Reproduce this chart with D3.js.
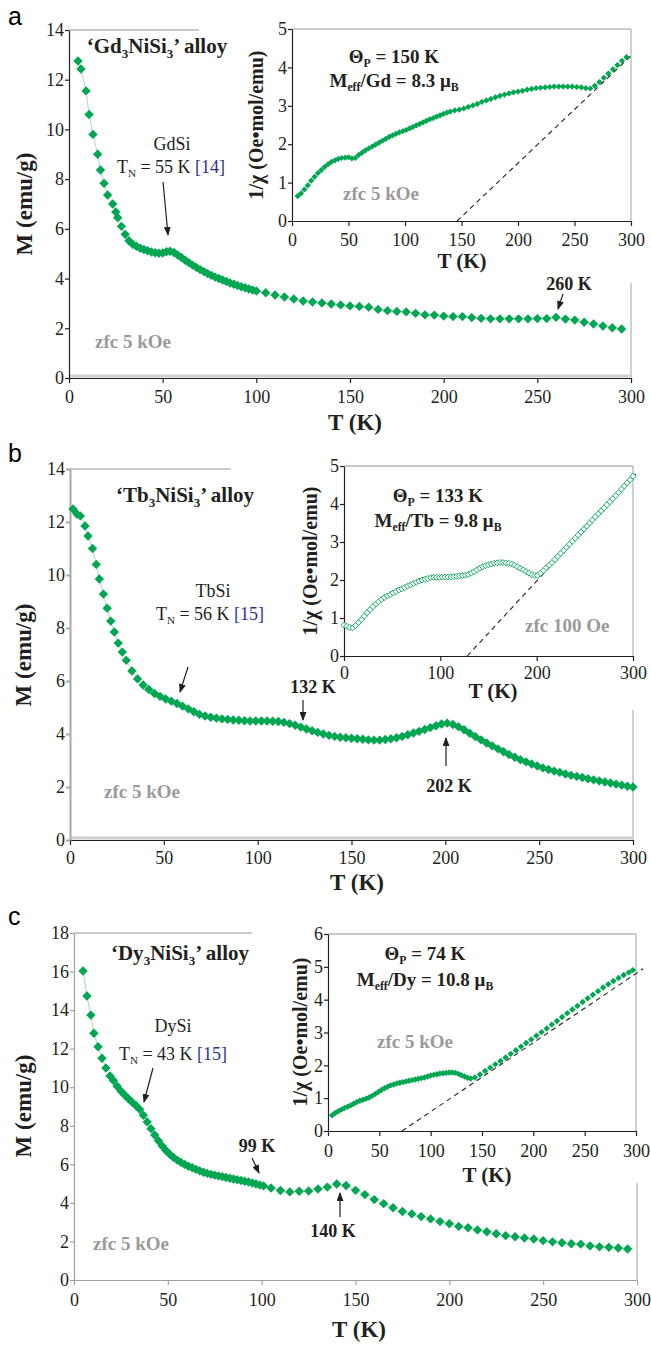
<!DOCTYPE html>
<html>
<head>
<meta charset="utf-8">
<script src="https://cdn.jsdelivr.net/npm/d3@7"></script>
<style>
  body { margin: 0; background: #fff; }
  svg text { font-family: "Liberation Serif", "Times New Roman", serif; }
</style>
</head>
<body>
<div id="grafica"></div>
<script>
// ---- Datos: pares [T (K), valor] ----
// (a) Gd3NiSi3: M (emu/g) y 1/chi
const gdMain = [[4.8,12.75],[6.4,12.43],[9.1,11.55],[10.7,10.6],[12.8,9.8],[15.3,9.0],[16.8,8.37],[18.7,7.83],[20.6,7.36],[23.3,7.0],[25,6.68],
  [26,6.45],[28,6.1],[30,5.78],[32,5.52],[34,5.38],[36,5.3],[38,5.22],[40,5.17],[42,5.12],[44,5.07],[46,5.04],[48,5.02],[50,5.03],[52,5.08],[54,5.1],[56,5.05],[58,4.95],[60,4.85],[62,4.74],[64,4.64],[66,4.54],[68,4.45],[70,4.36],[72,4.28],[74,4.2],[76,4.13],[78,4.06],[80,4.0],[82,3.94],[84,3.88],[86,3.82],[88,3.77],[90,3.72],[92,3.67],[94,3.63],[96,3.58],[98,3.54],[100,3.5],
  [105,3.43],[110,3.34],[115,3.26],[120,3.18],[125,3.1],[130,3.06],[135,3.02],[140,2.98],[145,2.94],[150,2.9],[155,2.88],[160,2.85],[165,2.76],[170,2.71],[175,2.68],[180,2.66],[185,2.6],[190,2.54],[195,2.53],[200,2.49],[205,2.47],[210,2.47],[215,2.43],[220,2.4],[225,2.38],[230,2.38],[235,2.38],[240,2.38],[245,2.38],[250,2.39],[255,2.39],[260,2.44],[265,2.37],[270,2.33],[275,2.24],[280,2.17],[285,2.09],[290,2.02],[295,1.97]];
const gdInv = [[5,0.65],[8,0.72],[11,0.82],[14,0.93],[17,1.05],[20,1.15],[23,1.25],[26,1.33],[29,1.41],[32,1.48],[35,1.54],[38,1.58],[41,1.62],[44,1.64],[47,1.65],[50,1.66],[53,1.63],[56,1.64],
  [59,1.72],[62,1.78],[65,1.84],[68,1.89],[71,1.94],[74,1.99],[77,2.04],[80,2.09],[83,2.14],[86,2.19],[89,2.23],[92,2.27],[95,2.31],[98,2.34],[101,2.37],[104,2.41],[107,2.45],[110,2.49],[113,2.53],[116,2.57],[119,2.61],[122,2.65],[125,2.68],[128,2.72],[131,2.75],[134,2.79],[137,2.82],[140,2.85],
  [144,2.88],[148,2.9],[152,2.93],[156,2.97],[160,3.01],[164,3.05],[168,3.1],[172,3.14],[176,3.18],[180,3.22],[184,3.26],[188,3.29],[192,3.32],[196,3.35],[200,3.37],[204,3.39],[208,3.42],[212,3.44],[216,3.46],[220,3.47],[224,3.48],[228,3.49],[232,3.5],[236,3.5],[240,3.5],[244,3.5],[248,3.5],[252,3.49],[256,3.48],[260,3.46],[264,3.45],[268,3.52],[272,3.62],[276,3.73],[280,3.84],[284,3.95],[288,4.06],[292,4.17],[296,4.27]];
const gdFit = [[146,0],[300,4.3]];

// (b) Tb3NiSi3
const tbMain = [[1.6,12.49],[3.7,12.3],[5.5,12.23],[8,11.85],[9.6,11.47],[12,11.0],[14,10.4],[15.6,9.85],[17.8,9.28],[19.8,8.75],[21.7,8.26],[23.6,7.85],[25.7,7.43],[27.9,7.09],
  [30,6.78],[33,6.38],[36,6.08],[39,5.85],[42,5.68],[45,5.53],[48,5.42],[51,5.32],[54,5.24],[57,5.15],[60,5.05],[63,4.95],[66,4.84],[69,4.74],[72,4.68],[75,4.63],[78,4.6],[81,4.57],[84,4.55],[87,4.53],[90,4.52],[93,4.5],[96,4.49],[99,4.49],[102,4.49],[105,4.49],[108,4.48],[111,4.47],[114,4.44],[117,4.39],[120,4.33],[123,4.26],[126,4.19],[129,4.12],[132,4.06],[135,4.0],[138,3.95],[141,3.91],[144,3.88],[147,3.86],[150,3.84],[153,3.82],[156,3.8],[159,3.78],[162,3.77],[165,3.77],[168,3.79],[171,3.82],[174,3.86],[177,3.91],[180,3.97],[183,4.04],[186,4.1],[189,4.17],[192,4.24],[195,4.31],[198,4.38],[201,4.41],[204,4.36],[207,4.27],[210,4.16],[213,4.03],[216,3.9],[219,3.78],[222,3.66],[225,3.55],[228,3.44],[231,3.33],[234,3.22],[237,3.12],[240,3.03],[243,2.95],[246,2.87],[249,2.79],[252,2.72],[255,2.66],[258,2.6],[261,2.55],[264,2.49],[267,2.44],[270,2.4],[273,2.36],[276,2.31],[279,2.27],[282,2.23],[285,2.19],[288,2.15],[291,2.11],[294,2.07],[297,2.03],[300,2.0]];
const tbInv = [[0,0.81],[3,0.78],[6,0.75],[9,0.74],[12,0.8],[15,0.88],[18,0.96],[21,1.05],[24,1.14],[27,1.22],[30,1.3],[33,1.37],[36,1.43],[39,1.49],[42,1.54],[45,1.58],[48,1.62],[51,1.66],[54,1.7],[57,1.74],[60,1.77],[63,1.8],[66,1.84],[69,1.87],[72,1.91],[75,1.94],[78,1.97],[81,2.0],[84,2.02],[87,2.04],[90,2.06],[93,2.07],[96,2.07],[99,2.07],[102,2.08],[105,2.08],[108,2.08],[111,2.08],[114,2.09],[117,2.1],[120,2.11],[123,2.12],[126,2.13],[129,2.15],[132,2.18],[135,2.22],[138,2.27],[141,2.31],[144,2.35],[147,2.38],[150,2.4],[153,2.42],[156,2.44],[159,2.45],[162,2.46],[165,2.46],[168,2.45],[171,2.44],[174,2.42],[177,2.39],[180,2.35],[183,2.31],[186,2.27],[189,2.22],[192,2.18],[195,2.14],[198,2.12],
  [201,2.12],[204,2.18],[207,2.25],[210,2.32],[213,2.39],[216,2.46],[219,2.54],[222,2.62],[225,2.7],[228,2.78],[231,2.86],[234,2.94],[237,3.02],[240,3.1],[243,3.18],[246,3.26],[249,3.34],[252,3.42],[255,3.5],[258,3.58],[261,3.66],[264,3.74],[267,3.82],[270,3.9],[273,3.98],[276,4.06],[279,4.14],[282,4.22],[285,4.3],[288,4.39],[291,4.47],[294,4.56],[297,4.64],[300,4.73]];
const tbFit = [[128,0],[305,4.85]];

// (c) Dy3NiSi3
const dyMain = [[4.8,16.03],[6.9,14.73],[9,13.74],[10.6,12.8],[12.8,12.1],[14.9,11.5],[17,11.0],[19.2,10.58],
  [21,10.35],[23,10.05],[25,9.8],[27,9.6],[29,9.4],[31,9.22],[33,9.05],[35,8.85],[37,8.55],[39,8.2],[41,7.85],[43,7.52],[45,7.22],[47,6.95],[49,6.72],[51,6.52],[53,6.36],[55,6.22],[57,6.1],[59,5.99],[61,5.9],[63,5.82],[65,5.74],[67,5.66],[69,5.59],[71,5.53],[73,5.48],[75,5.44],[77,5.4],[79,5.36],[81,5.32],[83,5.28],[85,5.24],[87,5.2],[89,5.16],[91,5.12],[93,5.08],[95,5.03],[97,4.98],[99,4.93],[101,4.88],
  [105,4.77],[110,4.64],[115,4.57],[120,4.6],[125,4.62],[130,4.72],[135,4.82],[140,4.98],[145,4.9],[150,4.65],[155,4.43],[160,4.17],[165,3.96],[170,3.75],[175,3.55],[180,3.43],[185,3.29],[190,3.17],[195,3.03],[200,2.92],[205,2.78],[210,2.71],[215,2.6],[220,2.5],[225,2.4],[230,2.3],[235,2.24],[240,2.18],[245,2.13],[250,2.04],[255,1.98],[260,1.93],[265,1.88],[270,1.86],[275,1.77],[280,1.72],[285,1.7],[290,1.66],[295,1.61]];
const dyInv = [[4,0.48],[7,0.55],[10,0.6],[13,0.65],[16,0.7],[19,0.74],[22,0.78],[25,0.83],[28,0.88],[31,0.92],[34,0.95],[37,0.98],[40,1.02],[43,1.07],[46,1.13],[49,1.19],[52,1.25],[55,1.3],[58,1.35],[61,1.39],[64,1.42],[67,1.45],[70,1.47],[73,1.49],[76,1.51],[79,1.53],[82,1.55],[85,1.57],[88,1.59],[91,1.61],[94,1.63],[97,1.66],[100,1.69],[103,1.71],[106,1.73],[109,1.75],[112,1.76],[115,1.77],[118,1.78],[121,1.78],[124,1.77],[127,1.74],[130,1.7],[133,1.66],[136,1.62],[139,1.6],
  [143,1.63],[148,1.72],[153,1.83],[158,1.93],[163,2.03],[168,2.13],[173,2.24],[178,2.35],[183,2.46],[188,2.57],[193,2.68],[198,2.79],[203,2.9],[208,3.01],[213,3.12],[218,3.24],[223,3.35],[228,3.47],[233,3.59],[238,3.7],[243,3.81],[248,3.93],[253,4.04],[258,4.15],[263,4.26],[268,4.37],[273,4.47],[278,4.57],[283,4.66],[288,4.75],[293,4.83],[297,4.9]];
const dyFit = [[72,0],[307,4.94]];

// Etiquetas de los ejes
const tTicks50 = [0, 50, 100, 150, 200, 250, 300];
const tTicks100 = [0, 100, 200, 300];
const mTicks14 = [0, 2, 4, 6, 8, 10, 12, 14];
const mTicks18 = [0, 2, 4, 6, 8, 10, 12, 14, 16, 18];
const invTicks5 = [0, 1, 2, 3, 4, 5];
const invTicks6 = [0, 1, 2, 3, 4, 5, 6];

// ---- Estilos ----
const verde = "#00a651";
const verdeClaro = "#a8dcbd";
const tinta = "#231f20";
const grisTxt = "#9a9a9a";
const grisBorde = "#b8b8b8";
const azulRef = "#2e3192";
const fmt = d3.format("d");

const diamond = (r) => `M0,${-r}L${r},0L0,${r}L${-r},0Z`;

// 1. Lienzo
const svg = d3.select("#grafica").append("svg")
    .attr("width", 651).attr("height", 1348);

svg.append("defs").append("marker")
    .attr("id", "flecha")
    .attr("markerUnits", "userSpaceOnUse")
    .attr("markerWidth", 9).attr("markerHeight", 7)
    .attr("refX", 8).attr("refY", 3.5)
    .attr("orient", "auto")
    .append("path").attr("d", "M0,0L9,3.5L0,7Z").attr("fill", tinta);

// Texto con subíndices: parts = [{t, sub, c}]
function richText(g, o) {
    const t = g.append("text")
        .attr("x", o.x).attr("y", o.y)
        .attr("text-anchor", o.anchor || "middle")
        .attr("font-size", o.size)
        .attr("font-weight", o.bold ? "bold" : "normal")
        .attr("fill", o.color || tinta);
    let shifted = 0;
    o.parts.forEach((p) => {
        const s = t.append("tspan").text(p.t);
        const want = p.sub ? o.size * 0.22 : 0;
        if (want !== shifted) { s.attr("dy", want - shifted); shifted = want; }
        if (p.sub) s.attr("font-size", o.size * 0.62);
        if (p.c) s.attr("fill", p.c);
    });
    return t;
}

function arrow(g, a) {
    g.append("line")
        .attr("x1", a[0]).attr("y1", a[1]).attr("x2", a[2]).attr("y2", a[3])
        .attr("stroke", tinta).attr("stroke-width", 1.2)
        .attr("marker-end", "url(#flecha)");
}

// 2. Un gráfico (principal o recuadro)
function drawPlot(g, c) {
    const x = d3.scaleLinear().domain([0, 300]).range([c.x0, c.x1]);
    const y = d3.scaleLinear().domain([0, c.ymax]).range([c.yb, c.yt]);

    // Bordes grises del área
    g.append("line").attr("x1", c.x0).attr("x2", c.topEnd).attr("y1", c.yt).attr("y2", c.yt)
        .attr("stroke", grisBorde).attr("stroke-width", 1.3);
    g.append("line").attr("x1", c.x1).attr("x2", c.x1).attr("y1", c.rightStart).attr("y2", c.yb)
        .attr("stroke", grisBorde).attr("stroke-width", 1.3);
    if (c.bottomGray) {
        g.append("line").attr("x1", c.x0).attr("x2", c.x1).attr("y1", c.yb - 2).attr("y2", c.yb - 2)
            .attr("stroke", "#d0d0d0").attr("stroke-width", 3);
    }

    // Ejes
    const ax = g.append("g")
        .attr("transform", `translate(0,${c.yb})`)
        .call(d3.axisBottom(x).tickValues(c.xTicks).tickFormat(fmt).tickSize(5).tickSizeOuter(0).tickPadding(c.xPad))
        .attr("font-size", 18);
    ax.selectAll("path,line").attr("stroke", c.bottomColor).attr("stroke-width", 1.2);
    ax.selectAll("text").attr("fill", tinta);

    const ay = g.append("g")
        .attr("transform", `translate(${c.x0},0)`)
        .call(d3.axisLeft(y).tickValues(c.yTicks).tickFormat(fmt).tickSize(4).tickSizeOuter(0).tickPadding(1))
        .attr("font-size", 18);
    ay.selectAll("path,line").attr("stroke", c.leftColor).attr("stroke-width", c.leftWidth || 1.2);
    ay.selectAll("text").attr("fill", tinta);

    // Recta de Curie-Weiss
    if (c.fit) {
        g.append("line")
            .attr("x1", x(c.fit[0][0])).attr("y1", y(c.fit[0][1]))
            .attr("x2", x(c.fit[1][0])).attr("y2", y(c.fit[1][1]))
            .attr("stroke", tinta).attr("stroke-width", 1.1)
            .attr("stroke-dasharray", "5,4");
    }

    // Línea fina que une los puntos
    g.append("path").datum(c.data)
        .attr("d", d3.line().x((d) => x(d[0])).y((d) => y(d[1])))
        .attr("fill", "none").attr("stroke", verdeClaro).attr("stroke-width", 1);

    // Marcadores (rombos)
    g.append("g").selectAll("path").data(c.data).join("path")
        .attr("d", diamond(c.r))
        .attr("transform", (d) => `translate(${x(d[0])},${y(d[1])})`)
        .attr("fill", c.hollow ? "#fff" : verde)
        .attr("stroke", c.hollow ? verde : "none")
        .attr("stroke-width", c.hollow ? 0.9 : 0);

    // Títulos de ejes
    g.append("text")
        .attr("x", c.xTitle[0]).attr("y", c.xTitle[1])
        .attr("text-anchor", "middle")
        .attr("font-size", c.titleSize).attr("font-weight", "bold").attr("fill", tinta)
        .text("T (K)");
    g.append("text")
        .attr("transform", `translate(${c.yTitle[0]},${c.yTitle[1]}) rotate(-90)`)
        .attr("text-anchor", "middle")
        .attr("font-size", c.yTitleSize || c.titleSize).attr("font-weight", "bold").attr("fill", tinta)
        .text(c.yLabel);
}

const mLabel = "M (emu/g)";
const invLabel = "1/\u03c7 (Oe\u2022mol/emu)";

// 3. Paneles
const panels = [
    {
        letter: "a", letterY: 25,
        main: { x0: 69, x1: 631, yb: 378, yt: 30, ymax: 14, yTicks: mTicks14, xTicks: tTicks50, xPad: 7,
            topEnd: 199, rightStart: 283, leftColor: tinta, bottomColor: tinta, bottomGray: true,
            data: gdMain, r: 4.7, xTitle: [355, 430], yTitle: [32, 204], titleSize: 23, yLabel: mLabel },
        inset: { x0: 292, x1: 631, yb: 221, yt: 29, ymax: 5, yTicks: invTicks5, xTicks: tTicks50, xPad: 7,
            topEnd: 631, rightStart: 29, leftColor: tinta, bottomColor: tinta,
            data: gdInv, r: 3.1, fit: gdFit, xTitle: [462, 268], yTitle: [263, 125], titleSize: 21, yTitleSize: 20, yLabel: invLabel },
        texts: [
            { x: 157, y: 53, size: 21, bold: true, parts: [{ t: "\u2018Gd" }, { t: "3", sub: true }, { t: "NiSi" }, { t: "3", sub: true }, { t: "\u2019 alloy" }] },
            { x: 172, y: 150, size: 18, parts: [{ t: "GdSi" }] },
            { x: 171, y: 173, size: 18, parts: [{ t: "T" }, { t: "N", sub: true }, { t: " = 55 K " }, { t: "[14]", c: azulRef }] },
            { x: 569, y: 290, size: 18, bold: true, parts: [{ t: "260 K" }] },
            { x: 95, y: 348, size: 19, bold: true, anchor: "start", color: grisTxt, parts: [{ t: "zfc 5 kOe" }] },
            { x: 394, y: 63, size: 19, bold: true, parts: [{ t: "\u0398" }, { t: "P", sub: true }, { t: " = 150 K" }] },
            { x: 394, y: 87, size: 19, bold: true, parts: [{ t: "M" }, { t: "eff", sub: true }, { t: "/Gd = 8.3 \u03bc" }, { t: "B", sub: true }] },
            { x: 343, y: 200, size: 19, bold: true, anchor: "start", color: grisTxt, parts: [{ t: "zfc 5 kOe" }] }
        ],
        arrows: [[163, 182, 168, 235], [563, 294, 558, 309]]
    },
    {
        letter: "b", letterY: 462,
        main: { x0: 70, x1: 633, yb: 840, yt: 469, ymax: 14, yTicks: mTicks14, xTicks: tTicks50, xPad: 6,
            topEnd: 231, rightStart: 710, leftColor: "#a8a8a8", leftWidth: 2, bottomColor: tinta, bottomGray: true,
            data: tbMain, r: 4.7, xTitle: [357, 890], yTitle: [31, 655], titleSize: 23, yLabel: mLabel },
        inset: { x0: 344, x1: 633, yb: 656, yt: 466, ymax: 5, yTicks: invTicks5, xTicks: tTicks100, xPad: 5,
            topEnd: 633, rightStart: 466, leftColor: tinta, bottomColor: tinta,
            data: tbInv, r: 3, hollow: true, fit: tbFit, xTitle: [493, 698], yTitle: [317, 561], titleSize: 21, yTitleSize: 20, yLabel: invLabel },
        texts: [
            { x: 185, y: 502, size: 21, bold: true, parts: [{ t: "\u2018Tb" }, { t: "3", sub: true }, { t: "NiSi" }, { t: "3", sub: true }, { t: "\u2019 alloy" }] },
            { x: 213, y: 597, size: 18, parts: [{ t: "TbSi" }] },
            { x: 210, y: 620, size: 18, parts: [{ t: "T" }, { t: "N", sub: true }, { t: " = 56 K " }, { t: "[15]", c: azulRef }] },
            { x: 313, y: 693, size: 18, bold: true, parts: [{ t: "132 K" }] },
            { x: 449, y: 792, size: 18, bold: true, parts: [{ t: "202 K" }] },
            { x: 104, y: 798, size: 19, bold: true, anchor: "start", color: grisTxt, parts: [{ t: "zfc 5 kOe" }] },
            { x: 438, y: 502, size: 19, bold: true, parts: [{ t: "\u0398" }, { t: "P", sub: true }, { t: " = 133 K" }] },
            { x: 438, y: 527, size: 19, bold: true, parts: [{ t: "M" }, { t: "eff", sub: true }, { t: "/Tb = 9.8 \u03bc" }, { t: "B", sub: true }] },
            { x: 525, y: 632, size: 19, bold: true, anchor: "start", color: grisTxt, parts: [{ t: "zfc 100 Oe" }] }
        ],
        arrows: [[188, 667, 180, 692], [303, 700, 303, 720], [446, 766, 446, 738]]
    },
    {
        letter: "c", letterY: 925,
        main: { x0: 74, x1: 637, yb: 1280, yt: 933, ymax: 18, yTicks: mTicks18, xTicks: tTicks50, xPad: 8,
            topEnd: 252, rightStart: 1183, leftColor: "#a0a0a0", bottomColor: "#a0a0a0",
            data: dyMain, r: 4.7, xTitle: [359, 1337], yTitle: [31, 1106], titleSize: 23, yLabel: mLabel },
        inset: { x0: 328, x1: 636, yb: 1131, yt: 934, ymax: 6, yTicks: invTicks6, xTicks: tTicks50, xPad: 8,
            topEnd: 636, rightStart: 934, leftColor: tinta, bottomColor: tinta,
            data: dyInv, r: 3.2, fit: dyFit, xTitle: [487, 1182], yTitle: [307, 1032], titleSize: 21, yTitleSize: 20, yLabel: invLabel },
        texts: [
            { x: 180, y: 960, size: 21, bold: true, parts: [{ t: "\u2018Dy" }, { t: "3", sub: true }, { t: "NiSi" }, { t: "3", sub: true }, { t: "\u2019 alloy" }] },
            { x: 173, y: 1032, size: 18, parts: [{ t: "DySi" }] },
            { x: 173, y: 1060, size: 18, parts: [{ t: "T" }, { t: "N", sub: true }, { t: " = 43 K " }, { t: "[15]", c: azulRef }] },
            { x: 257, y: 1152, size: 18, bold: true, parts: [{ t: "99 K" }] },
            { x: 333, y: 1237, size: 18, bold: true, parts: [{ t: "140 K" }] },
            { x: 93, y: 1250, size: 19, bold: true, anchor: "start", color: grisTxt, parts: [{ t: "zfc 5 kOe" }] },
            { x: 425, y: 960, size: 19, bold: true, parts: [{ t: "\u0398" }, { t: "P", sub: true }, { t: " = 74 K" }] },
            { x: 425, y: 986, size: 19, bold: true, parts: [{ t: "M" }, { t: "eff", sub: true }, { t: "/Dy = 10.8 \u03bc" }, { t: "B", sub: true }] },
            { x: 377, y: 1048, size: 19, bold: true, anchor: "start", color: grisTxt, parts: [{ t: "zfc 5 kOe" }] }
        ],
        arrows: [[153, 1068, 144, 1102], [252, 1158, 259, 1173], [340, 1217, 340, 1193]]
    }
];

panels.forEach((p) => {
    const g = svg.append("g");
    drawPlot(g, p.main);
    drawPlot(g, p.inset);
    p.texts.forEach((t) => richText(g, t));
    p.arrows.forEach((a) => arrow(g, a));
    g.append("text")
        .attr("x", 8).attr("y", p.letterY)
        .style("font-family", '"Liberation Sans",Arial,sans-serif')
        .attr("font-size", 25).attr("fill", "#000")
        .text(p.letter);
});
</script>
</body>
</html>
